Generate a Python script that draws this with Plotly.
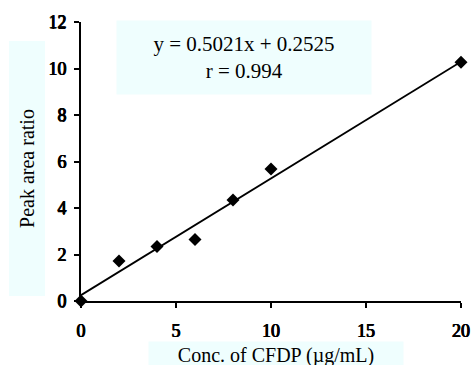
import plotly.graph_objects as go

# Data
conc = [0, 2, 4, 6, 8, 10, 20]
ratio = [0.0, 1.72, 2.34, 2.65, 4.34, 5.68, 10.27]
slope = 0.5021
intercept = 0.2525
r_value = 0.994
x_ticks = [0, 5, 10, 15, 20]
y_ticks = [0, 2, 4, 6, 8, 10, 12]

FONT = "Liberation Serif"
BOX = "#effefe"
FAKE_BOLD = "0.6px 0 0 black, -0.4px 0 0 black, 0 0.3px 0 black"

fit_x = [min(conc), max(conc)]
fit_y = [slope * v + intercept for v in fit_x]

fig = go.Figure()
fig.add_trace(go.Scatter(x=fit_x, y=fit_y, mode="lines",
                         line=dict(color="black", width=1.8),
                         cliponaxis=False, showlegend=False, hoverinfo="skip"))
fig.add_trace(go.Scatter(x=conc, y=ratio, mode="markers",
                         marker=dict(symbol="diamond", size=10, color="black"),
                         cliponaxis=False, showlegend=False))

axis_common = dict(showline=True, linecolor="black", linewidth=2,
                   ticks="outside", ticklen=5, tickwidth=2, tickcolor="black",
                   showgrid=False, zeroline=False, automargin=False,
                   tickfont=dict(family=FONT, size=18, color="black", shadow=FAKE_BOLD))

fig.update_xaxes(range=[0, 20], tickvals=x_ticks, ticklabelstandoff=7, **axis_common)
fig.update_yaxes(range=[0, 12], tickvals=y_ticks, ticklabelstandoff=4, **axis_common)

fig.add_annotation(xref="paper", yref="paper", x=(244 - 81) / 380, y=(301 - 57.5) / 279,
                   text=f"y = {slope}x + {intercept}<br>r = {r_value}",
                   showarrow=False, bgcolor=BOX, width=252, height=71,
                   font=dict(family=FONT, size=21, color="black"),
                   xanchor="center", yanchor="middle")
fig.add_annotation(xref="paper", yref="paper", x=(276 - 81) / 380, y=(301 - 355) / 279,
                   text="Conc. of CFDP (µg/mL)", showarrow=False, bgcolor=BOX,
                   width=252, height=24, font=dict(family=FONT, size=20, color="black"),
                   xanchor="center", yanchor="middle")
fig.add_annotation(xref="paper", yref="paper", x=(26.5 - 81) / 380, y=(301 - 169) / 279,
                   text="Peak area ratio", showarrow=False, bgcolor=BOX, textangle=-90,
                   width=252, height=33, font=dict(family=FONT, size=20, color="black"),
                   xanchor="center", yanchor="middle")

fig.update_layout(width=471, height=365, margin=dict(l=81, r=10, t=22, b=64),
                  plot_bgcolor="white", paper_bgcolor="white",
                  font=dict(family=FONT, color="black"))

fig.write_html("out.html")
